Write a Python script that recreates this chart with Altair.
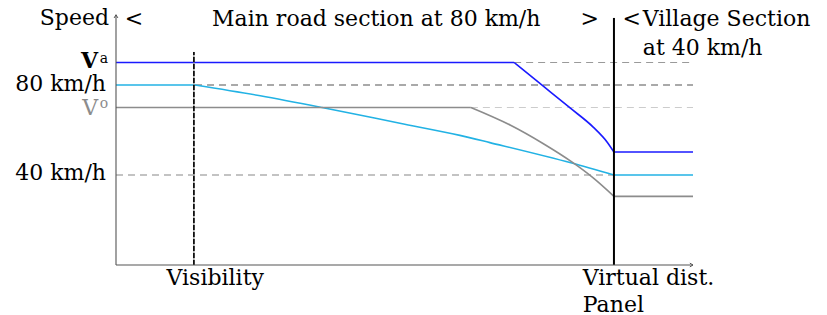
import altair as alt
import pandas as pd

# ---- data -------------------------------------------------------------
series_names = ["Va", "80 km/h", "Vo"]
series_colors = ["#1a1aff", "#22b2e4", "#8c8c8c"]

# each series: flat part, curved part, flat part (segment id)
blue_x = [0, 69.0, 69.0, 74.0, 78.7, 82.7, 85.1, 86.3, 86.3, 100]
blue_y = [90, 90, 90, 79.6, 69.8, 61.3, 54.7, 50.2, 50.2, 50.2]
blue_seg = [0, 0, 1, 1, 1, 1, 1, 1, 2, 2]
cyan_x = [0, 13.7, 13.7, 25.0, 35.7, 49.2, 59.6, 64.8, 79.0, 86.3, 86.3, 100]
cyan_y = [80, 80, 80, 75.2, 70.0, 63.0, 57.6, 54.4, 45.3, 40, 40, 40]
cyan_seg = [0, 0, 1, 1, 1, 1, 1, 1, 1, 1, 2, 2]
gray_x = [0, 61.5, 61.5, 68.3, 74.0, 79.0, 82.7, 86.3, 86.3, 100]
gray_y = [70, 70, 70, 62.2, 54.0, 45.8, 38.7, 30.5, 30.5, 30.5]
gray_seg = [0, 0, 1, 1, 1, 1, 1, 1, 2, 2]

# dashed reference levels
ref_y = [90, 80, 70, 40]
ref_x0 = [69.0, 13.7, 61.5, 0]
ref_x1 = [100, 100, 100, 86.3]
ref_col = ["#9a9a9a", "#555555", "#cccccc", "#888888"]

visibility_x = 13.5
visibility_top = 94.7
panel_x = 86.3
panel_top = 109.8
yaxis_top = 111.2
xaxis_end = 100

# annotations
left_text = ["Village Section", "at 40 km/h", "Virtual dist.", "Panel"]
left_x = [91.3, 91.3, 80.9, 80.9]
left_y = [106.2, 93.3, -8.9, -20.8]

center_text = ["<", "Main road section at 80 km/h", ">", "<", "Visibility"]
center_x = [3.1, 45.1, 82.1, 89.4, 17.2]
center_y = [106.2, 106.2, 106.2, 106.2, -8.9]

right_text = ["Speed", "80 km/h", "40 km/h"]
right_x = [-1.2, -1.73, -1.73]
right_y = [106.6, 77.3, 37.8]

vbig_text = ["V", "V"]
vbig_x = [-3.1, -3.1]
vbig_y = [87.6, 66.7]
vbig_col = ["#000000", "#8c8c8c"]

sup_text = ["a", "o"]
sup_x = [-2.8, -2.8]
sup_y = [90.0, 70.0]
sup_col = ["#000000", "#8c8c8c"]

# ---- tables -----------------------------------------------------------
rows = []
for name, xs_, ys_, sg in zip(series_names, [blue_x, cyan_x, gray_x], [blue_y, cyan_y, gray_y],
                              [blue_seg, cyan_seg, gray_seg]):
    for i, (a, b, s) in enumerate(zip(xs_, ys_, sg)):
        rows.append({"series": name, "x": a, "y": b, "idx": i, "grp": f"{name}-{s}"})
lines_df = pd.DataFrame(rows)
ref_df = pd.DataFrame({"y": ref_y, "x": ref_x0, "x2": ref_x1, "c": ref_col})

FONT = "DejaVu Serif"
FS = 22

xs = alt.Scale(domain=[0, 100], nice=False, zero=False)
ys = alt.Scale(domain=[0, 112], nice=False, zero=False)


def X(f="x"):
    return alt.X(f"{f}:Q", scale=xs, axis=None)


def Y(f="y"):
    return alt.Y(f"{f}:Q", scale=ys, axis=None)


refs = alt.Chart(ref_df).mark_rule(strokeDash=[7, 5], strokeWidth=1.2).encode(
    x=X(), x2="x2:Q", y=Y(), color=alt.Color("c:N", scale=None)
)

lines = alt.Chart(lines_df).mark_line(strokeWidth=1.6, interpolate="monotone").encode(
    x=X(), y=Y(),
    color=alt.Color("series:N", scale=alt.Scale(domain=series_names, range=series_colors), legend=None),
    detail="grp:N",
    order="idx:Q",
)

vis_df = pd.DataFrame({"x": [visibility_x], "y": [0], "y2": [visibility_top]})
vis_solid = alt.Chart(vis_df).mark_rule(color="#777777", strokeWidth=1).encode(x=X(), y=Y(), y2="y2:Q")
vis_dash = alt.Chart(vis_df).mark_rule(color="#000000", strokeWidth=1.6, strokeDash=[5, 2]).encode(
    x=X(), y=Y(), y2="y2:Q"
)
panel_df = pd.DataFrame({"x": [panel_x], "y": [0], "y2": [panel_top]})
panel = alt.Chart(panel_df).mark_rule(color="#000000", strokeWidth=2).encode(x=X(), y=Y(), y2="y2:Q")

yaxis = alt.Chart(pd.DataFrame({"x": [0], "y": [0], "y2": [yaxis_top]})).mark_rule(
    color="#555555", strokeWidth=1.1
).encode(x=X(), y=Y(), y2="y2:Q")
xaxis = alt.Chart(pd.DataFrame({"x": [0], "x2": [xaxis_end], "y": [0]})).mark_rule(
    color="#555555", strokeWidth=1.1
).encode(x=X(), x2="x2:Q", y=Y())

up_arrow = alt.Chart(pd.DataFrame({"x": [0], "y": [yaxis_top]})).mark_point(
    shape="M -0.6 1 L 0 0 L 0.6 1", size=40, filled=False, color="#555555", strokeWidth=1, opacity=1
).encode(x=X(), y=Y())
right_arrow = alt.Chart(pd.DataFrame({"x": [xaxis_end], "y": [0]})).mark_point(
    shape="M -1 -0.6 L 0 0 L -1 0.6", size=40, filled=False, color="#555555", strokeWidth=1, opacity=1
).encode(x=X(), y=Y())


def text_layer(texts, xv, yv, align, size=FS, color="#000000", weight="normal"):
    d = {"t": texts, "x": xv, "y": yv}
    enc = dict(x=X(), y=Y(), text="t:N")
    kw = dict(align=align, baseline="alphabetic", font=FONT, fontSize=size, fontWeight=weight)
    if isinstance(color, list):
        d["c"] = color
        enc["color"] = alt.Color("c:N", scale=None)
    else:
        kw["color"] = color
    return alt.Chart(pd.DataFrame(d)).mark_text(**kw).encode(**enc)


t_left = text_layer(left_text, left_x, left_y, "left")
t_center = text_layer(center_text, center_x, center_y, "center")
t_right = text_layer(right_text, right_x, right_y, "right")
t_va = text_layer(vbig_text[:1], vbig_x[:1], vbig_y[:1], "right", color=vbig_col[0], weight="bold")
t_vo = text_layer(vbig_text[1:], vbig_x[1:], vbig_y[1:], "right", color=vbig_col[1])
t_sup = text_layer(sup_text, sup_x, sup_y, "left", size=14, color=sup_col)

chart = alt.layer(
    refs, lines, vis_solid, vis_dash, panel, yaxis, xaxis, up_arrow, right_arrow,
    t_left, t_center, t_right, t_va, t_vo, t_sup,
).properties(
    width=577, height=252,
    autosize=alt.AutoSizeParams(type="none"),
    padding={"left": 108, "top": 5, "right": 126, "bottom": 50},
).configure_view(stroke=None)

chart.save("out.html", embed_options={"renderer": "svg", "actions": False})
